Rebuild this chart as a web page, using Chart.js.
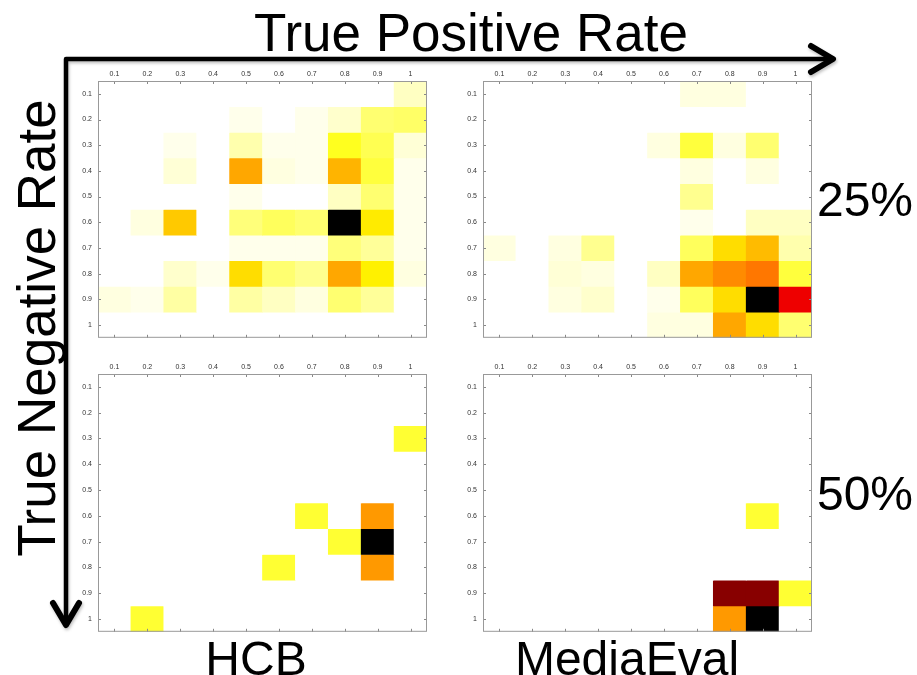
<!DOCTYPE html>
<html>
<head>
<meta charset="utf-8">
<script src="https://cdn.jsdelivr.net/npm/chart.js@4.4.1/dist/chart.umd.min.js"></script>
<style>
  html, body { margin: 0; padding: 0; background: #fff; }
  #page { position: relative; width: 917px; height: 675px; overflow: hidden; font-family: 'Liberation Sans', Arial, sans-serif; }
  canvas { position: absolute; }
  #overlay { position: absolute; left: 0; top: 0; pointer-events: none; }
</style>
</head>
<body>
<div id="page">
  <canvas id="hcb25" width="379" height="287" style="left:58px; top:61px;"></canvas>
  <canvas id="media25" width="379" height="287" style="left:443px; top:61px;"></canvas>
  <canvas id="hcb50" width="379" height="288" style="left:58px; top:354px;"></canvas>
  <canvas id="media50" width="379" height="288" style="left:443px; top:354px;"></canvas>
  <svg id="overlay" width="917" height="675" font-family="'Liberation Sans', Arial, sans-serif">
    <defs>
      <filter id="shadow" x="-5%" y="-5%" width="110%" height="110%">
        <feDropShadow dx="1" dy="2" stdDeviation="1.5" flood-color="#000" flood-opacity="0.25"/>
      </filter>
    </defs>
    <g filter="url(#shadow)" stroke="#000" fill="none" stroke-width="4.5" stroke-linecap="round" stroke-linejoin="round">
      <path d="M832,59 H66 V625"/>
      <path d="M811,46 L833,59 L811,72" stroke-width="6"/>
      <path d="M53,603 L66,625 L79,603" stroke-width="6"/>
    </g>
    <text x="471" y="51" font-size="53" text-anchor="middle">True Positive Rate</text>
    <text transform="translate(55,328) rotate(-90)" font-size="53" text-anchor="middle">True Negative Rate</text>
    <text x="865" y="216" font-size="48" text-anchor="middle">25%</text>
    <text x="865" y="510" font-size="48" text-anchor="middle">50%</text>
    <text x="256" y="675" font-size="48" text-anchor="middle">HCB</text>
    <text x="627" y="675" font-size="48" text-anchor="middle">MediaEval</text>
  </svg>
</div>
<script>
// tick labels, true positive rate (columns) and true negative rate (rows)
const tprLabels = ['0.1', '0.2', '0.3', '0.4', '0.5', '0.6', '0.7', '0.8', '0.9', '1'];
const tnrLabels = ['0.1', '0.2', '0.3', '0.4', '0.5', '0.6', '0.7', '0.8', '0.9', '1'];

// HCB, 25% - relative frequency (percent of the panel maximum)
const hcb25 = [
    [0, 0, 0, 0, 0, 0, 0, 0, 0, 6],
    [0, 0, 0, 0, 2, 0, 2, 5, 14, 15],
    [0, 0, 2, 0, 8, 2, 2, 22, 17, 4],
    [0, 0, 4, 0, 38, 3, 2, 36, 19, 2],
    [0, 0, 0, 0, 2, 0, 0, 6, 14, 2],
    [0, 3, 33, 0, 13, 16, 14, 100, 28, 2],
    [0, 0, 0, 0, 2, 2, 2, 13, 10, 2],
    [0, 0, 5, 2, 30, 14, 11, 38, 27, 3],
    [3, 2, 9, 0, 9, 6, 3, 14, 10, 0],
    [0, 0, 0, 0, 0, 0, 0, 0, 0, 0]
];

// MediaEval, 25%
const media25 = [
    [0, 0, 0, 0, 0, 0, 3, 3, 0, 0],
    [0, 0, 0, 0, 0, 0, 0, 0, 0, 0],
    [0, 0, 0, 0, 0, 3, 19, 3, 14, 0],
    [0, 0, 0, 0, 0, 0, 3, 0, 3, 0],
    [0, 0, 0, 0, 0, 0, 11, 0, 0, 0],
    [0, 0, 0, 0, 0, 0, 2, 0, 6, 6],
    [3, 0, 3, 11, 0, 0, 16, 30, 35, 8],
    [0, 0, 4, 3, 0, 6, 38, 42, 45, 19],
    [0, 0, 3, 5, 0, 2, 16, 30, 100, 65],
    [0, 0, 0, 0, 0, 3, 3, 38, 30, 14]
];

// HCB, 50% - counts
const hcb50 = [
    [0, 0, 0, 0, 0, 0, 0, 0, 0, 0],
    [0, 0, 0, 0, 0, 0, 0, 0, 0, 0],
    [0, 0, 0, 0, 0, 0, 0, 0, 0, 1],
    [0, 0, 0, 0, 0, 0, 0, 0, 0, 0],
    [0, 0, 0, 0, 0, 0, 0, 0, 0, 0],
    [0, 0, 0, 0, 0, 0, 1, 0, 2, 0],
    [0, 0, 0, 0, 0, 0, 0, 1, 5, 0],
    [0, 0, 0, 0, 0, 1, 0, 0, 2, 0],
    [0, 0, 0, 0, 0, 0, 0, 0, 0, 0],
    [0, 1, 0, 0, 0, 0, 0, 0, 0, 0]
];

// MediaEval, 50% - counts
const media50 = [
    [0, 0, 0, 0, 0, 0, 0, 0, 0, 0],
    [0, 0, 0, 0, 0, 0, 0, 0, 0, 0],
    [0, 0, 0, 0, 0, 0, 0, 0, 0, 0],
    [0, 0, 0, 0, 0, 0, 0, 0, 0, 0],
    [0, 0, 0, 0, 0, 0, 0, 0, 0, 0],
    [0, 0, 0, 0, 0, 0, 0, 0, 1, 0],
    [0, 0, 0, 0, 0, 0, 0, 0, 0, 0],
    [0, 0, 0, 0, 0, 0, 0, 0, 0, 0],
    [0, 0, 0, 0, 0, 0, 0, 4, 4, 1],
    [0, 0, 0, 0, 0, 0, 0, 2, 5, 0]
];

// reversed matlab "hot": 0 -> white, 1 -> black
function hotColor(v) {
    const t = 1 - v;
    const clamp = (a) => Math.max(0, Math.min(1, a));
    const r = clamp(t / 0.375);
    const g = clamp((t - 0.375) / 0.375);
    const b = clamp((t - 0.75) / 0.25);
    return 'rgb(' + Math.round(r * 255) + ',' + Math.round(g * 255) + ',' + Math.round(b * 255) + ')';
}

// ticks pointing into the plot + grey frame
const innerTicks = {
    id: 'innerTicks',
    afterDraw(chart) {
        const { ctx, chartArea: a, scales: { x, y } } = chart;
        ctx.save();
        ctx.strokeStyle = '#888';
        ctx.lineWidth = 1;
        ctx.beginPath();
        x.ticks.forEach((t, i) => {
            const px = Math.round(x.getPixelForTick(i)) + 0.5;
            ctx.moveTo(px, a.top); ctx.lineTo(px, a.top + 3);
            ctx.moveTo(px, a.bottom); ctx.lineTo(px, a.bottom - 3);
        });
        y.ticks.forEach((t) => {
            const py = Math.round(y.getPixelForValue(t.value)) + 0.5;
            ctx.moveTo(a.left, py); ctx.lineTo(a.left + 3, py);
            ctx.moveTo(a.right, py); ctx.lineTo(a.right - 3, py);
        });
        ctx.stroke();
        ctx.strokeStyle = '#999';
        ctx.strokeRect(a.left + 0.5, a.top + 0.5, a.width - 1, a.height - 1);
        ctx.restore();
    }
};

function makePanel(id, matrix) {
    const max = Math.max(...matrix.flat());
    const datasets = tnrLabels.map((row, r) => ({
        label: row,
        data: tprLabels.map(() => [r + 0.5, r + 1.5]),
        backgroundColor: matrix[r].map(v => hotColor(v / max)),
        borderWidth: 0,
        grouped: false,
        barPercentage: 1,
        categoryPercentage: 1
    }));

    const ctx = document.getElementById(id).getContext('2d');
    return new Chart(ctx, {
        type: 'bar',
        data: { labels: tprLabels, datasets: datasets },
        options: {
            responsive: false,
            maintainAspectRatio: false,
            animation: false,
            layout: { padding: { left: 0, top: 0, right: 10, bottom: 8 } },
            plugins: {
                legend: { display: false },
                tooltip: { enabled: false }
            },
            scales: {
                x: {
                    position: 'top',
                    grid: { display: false, drawTicks: false },
                    border: { display: false },
                    ticks: {
                        padding: 3,
                        color: '#333',
                        maxRotation: 0,
                        font: { size: 7, family: "'Liberation Sans', Arial, sans-serif" }
                    },
                    afterFit: (scale) => { scale.height = 20; }
                },
                y: {
                    type: 'linear',
                    reverse: true,
                    min: 0.5,
                    max: 10.5,
                    grid: { display: false, drawTicks: false },
                    border: { display: false },
                    afterBuildTicks: (scale) => {
                        scale.ticks = tnrLabels.map((l, i) => ({ value: i + 1 }));
                    },
                    ticks: {
                        padding: 6,
                        color: '#333',
                        font: { size: 7, family: "'Liberation Sans', Arial, sans-serif" },
                        callback: (value) => tnrLabels[value - 1]
                    },
                    afterFit: (scale) => { scale.width = 40; }
                }
            }
        },
        plugins: [innerTicks]
    });
}

document.addEventListener('DOMContentLoaded', function () {
    makePanel('hcb25', hcb25);
    makePanel('media25', media25);
    makePanel('hcb50', hcb50);
    makePanel('media50', media50);
});
</script>
</body>
</html>
